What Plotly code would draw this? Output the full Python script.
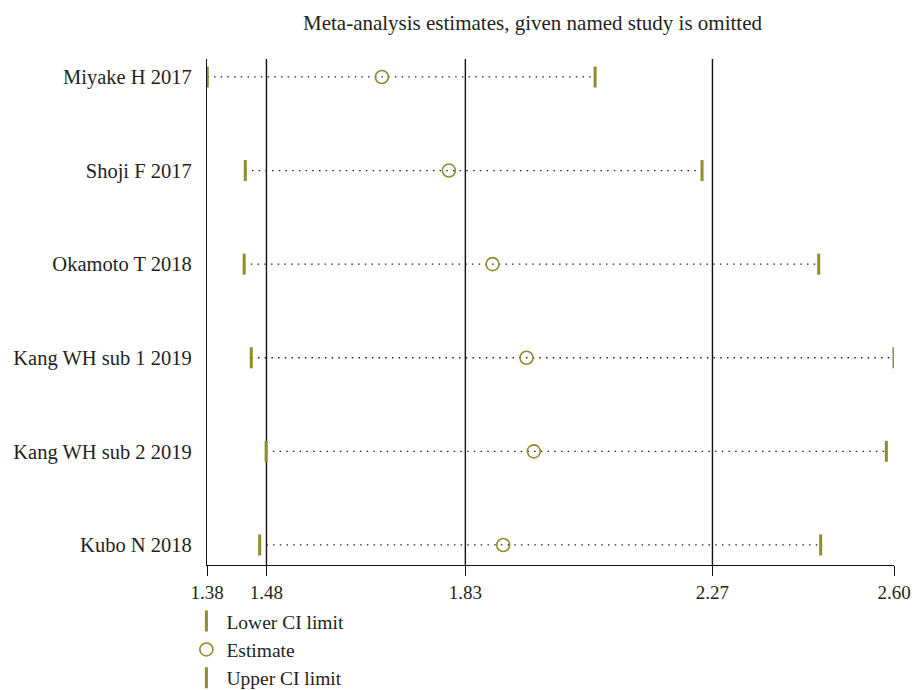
import plotly.graph_objects as go

# ---- data ----
studies = ["Miyake H 2017", "Shoji F 2017", "Okamoto T 2018",
           "Kang WH sub 1 2019", "Kang WH sub 2 2019", "Kubo N 2018"]
lower = [1.3805, 1.448, 1.446, 1.4586, 1.485, 1.4735]
estimate = [1.6906, 1.8095, 1.8871, 1.9474, 1.9604, 1.906]
upper = [2.0692, 2.2591, 2.4663, 2.600, 2.5864, 2.4698]

tick_vals = [1.38, 1.4856, 1.8388, 2.2776, 2.60]
tick_text = ["1.38", "1.48", "1.83", "2.27", "2.60"]
ref_lines = [1.4856, 1.8388, 2.2776]

OLIVE = "#8f8c2c"
FONT = "Liberation Serif"
TXT = "#231f20"

ypos = list(range(len(studies)))

fig = go.Figure()

# dotted CI lines
lx, ly = [], []
for i, (lo, up) in enumerate(zip(lower, upper)):
    lx += [lo, up, None]
    ly += [i, i, None]
fig.add_trace(go.Scatter(x=lx, y=ly, mode="lines",
                         line=dict(color="#222", width=1.3, dash="1.5px,5.2px"),
                         showlegend=False, hoverinfo="skip"))

fig.add_trace(go.Scatter(x=lower, y=ypos, mode="markers", name="Lower CI limit",
                         marker=dict(symbol="line-ns", size=15, color=OLIVE,
                                     line=dict(color=OLIVE, width=3))))
fig.add_trace(go.Scatter(x=estimate, y=ypos, mode="markers", name="Estimate",
                         marker=dict(symbol="circle-open", size=13, color=OLIVE,
                                     line=dict(color=OLIVE, width=1.6))))
fig.add_trace(go.Scatter(x=upper, y=ypos, mode="markers", name="Upper CI limit",
                         marker=dict(symbol="line-ns", size=15, color=OLIVE,
                                     line=dict(color=OLIVE, width=3))))

for v in ref_lines:
    fig.add_shape(type="line", x0=v, x1=v, xref="x", yref="paper", y0=0, y1=1,
                  line=dict(color="#111", width=1.4), layer="below")

fig.update_layout(
    width=917, height=690,
    margin=dict(l=207, r=23, t=59, b=125, autoexpand=False),
    paper_bgcolor="white", plot_bgcolor="white",
    font=dict(family=FONT, size=19, color=TXT),
    showlegend=True,
    legend=dict(x=-0.03, y=-0.073, xanchor="left", yanchor="top",
                bgcolor="rgba(0,0,0,0)", font=dict(size=19.5, family=FONT, color=TXT),
                itemwidth=30, tracegroupgap=0),
    annotations=[dict(text="Meta-analysis estimates, given named study is omitted",
                      xref="paper", yref="paper", x=0.474, y=1, yshift=36,
                      xanchor="center", yanchor="middle", showarrow=False,
                      font=dict(size=21, family=FONT, color=TXT))],
)
fig.update_xaxes(range=[1.38, 2.60], tickvals=tick_vals, ticktext=tick_text,
                 showgrid=False, zeroline=False, showline=True, linecolor="#111",
                 linewidth=1.4, ticks="outside", ticklen=10, tickcolor="#111",
                 tickwidth=1.4, tickfont=dict(size=19, family=FONT, color=TXT))
fig.update_yaxes(range=[5.214, -0.192], tickvals=ypos, ticktext=studies,
                 showgrid=False, zeroline=False, showline=True, linecolor="#111",
                 linewidth=1.4, ticks="", ticklabelstandoff=10,
                 tickfont=dict(size=20.5, family=FONT, color=TXT))

fig.write_html("out.html")
